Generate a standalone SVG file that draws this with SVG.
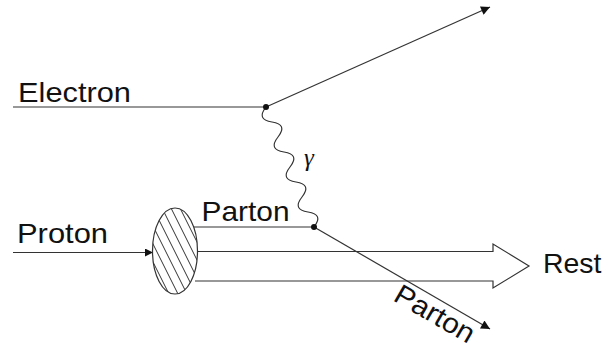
<svg xmlns="http://www.w3.org/2000/svg" width="606" height="353" viewBox="0 0 606 353">
<style>
.ln{stroke:#333;stroke-width:1.2;fill:none}
.lbl{font-family:"Liberation Sans",Arial,sans-serif;font-size:28px;fill:#111}
.hatch{stroke:#333;stroke-width:1}
</style>
<defs>
<marker id="ah" viewBox="0 0 10 10" refX="10" refY="5" markerWidth="10" markerHeight="8" markerUnits="userSpaceOnUse" orient="auto">
<path d="M0,0 L10,5 L0,10 z" fill="#111"/>
</marker>
<marker id="ahl" viewBox="0 0 10 10" refX="10" refY="5" markerWidth="13" markerHeight="9" markerUnits="userSpaceOnUse" orient="auto">
<path d="M0,0 L10,5 L0,10 z" fill="#111"/>
</marker>
<clipPath id="ec"><ellipse cx="175" cy="251" rx="22.5" ry="43"/></clipPath>
</defs>
<g id="connectors">
<line class="ln" x1="13" y1="107" x2="266" y2="107"/>
<line class="ln" x1="266" y1="107" x2="490" y2="7" marker-end="url(#ahl)"/>
<path class="ln" d="M266,107 Q256,119.7 272,122 T278,137 T284,152 T290,167 T296,182 T302,197 T308,212 T314,227"/>
<line class="ln" x1="13" y1="252.5" x2="153" y2="252.5" marker-end="url(#ah)"/>
<line class="ln" x1="193" y1="227" x2="314" y2="227"/>
<line class="ln" x1="314" y1="227" x2="490" y2="329" marker-end="url(#ahl)"/>
<path class="ln" d="M197,251.5 L493,251.5 L493,244 L529,266 L493,288 L493,281 L195,281" stroke="#444"/>
</g>
<g id="vertex1"><circle cx="266" cy="107" r="3" fill="#111"/></g>
<g id="vertex2"><circle cx="314" cy="227" r="3" fill="#111"/></g>
<g id="proton-blob">
<ellipse cx="175" cy="251" rx="22.5" ry="43" fill="#fff"/>
<g clip-path="url(#ec)" class="hatch">
<line x1="104" y1="200" x2="154" y2="300"/>
<line x1="113" y1="200" x2="163" y2="300"/>
<line x1="122" y1="200" x2="172" y2="300"/>
<line x1="131" y1="200" x2="181" y2="300"/>
<line x1="140" y1="200" x2="190" y2="300"/>
<line x1="149" y1="200" x2="199" y2="300"/>
<line x1="158" y1="200" x2="208" y2="300"/>
<line x1="167" y1="200" x2="217" y2="300"/>
<line x1="176" y1="200" x2="226" y2="300"/>
<line x1="185" y1="200" x2="235" y2="300"/>
<line x1="194" y1="200" x2="244" y2="300"/>
</g>
<ellipse cx="175" cy="251" rx="22.5" ry="43" class="ln"/>
</g>
<g id="labels">
<text class="lbl" x="18" y="102" textLength="113" lengthAdjust="spacingAndGlyphs">Electron</text>
<text class="lbl" x="17" y="243" textLength="91" lengthAdjust="spacingAndGlyphs">Proton</text>
<text class="lbl" x="201.5" y="221" textLength="88" lengthAdjust="spacingAndGlyphs">Parton</text>
<text class="lbl" x="543" y="273" textLength="58.5" lengthAdjust="spacingAndGlyphs">Rest</text>
<text class="lbl" transform="translate(392,300) rotate(30)" textLength="88" lengthAdjust="spacingAndGlyphs">Parton</text>
<text x="304" y="166" style="font-family:'Liberation Serif','Times New Roman',serif;font-size:25px;font-style:italic;fill:#111">γ</text>
</g>
</svg>
